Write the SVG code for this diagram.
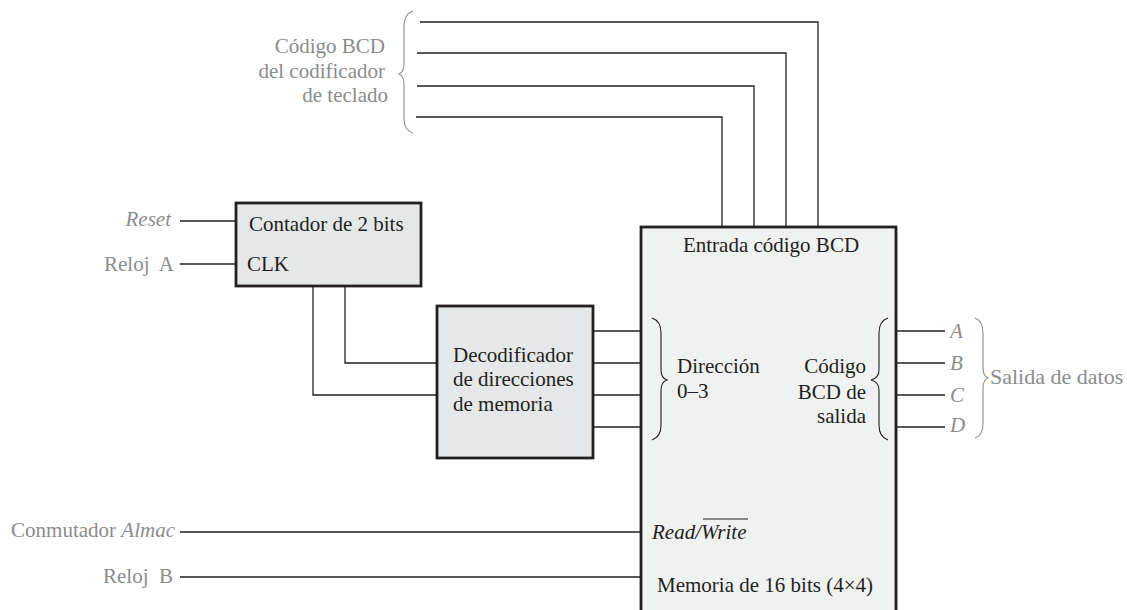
<svg xmlns="http://www.w3.org/2000/svg" width="1127" height="610" viewBox="0 0 1127 610">
<style>
text{font-size:21px;fill:#231f20}
.g{fill:#8a8c8e}
.i{font-style:italic}
.box{stroke:#231f20;stroke-width:2.8}
.w{fill:none;stroke:#231f20;stroke-width:1.3}
.br{fill:none;stroke:#231f20;stroke-width:1.1}
.brg{fill:none;stroke:#8a8c8e;stroke-width:1.1}
</style>
<rect width="1127" height="610" fill="#fff"/>
<g font-family="'Liberation Serif', serif">
<g id="connectors">
<path class="w" d="M420 22H818V227M417 53H786V227M417 86H754V227M416 117H722V227"/>
<path class="w" d="M180 221H236M180 264H236"/>
<path class="w" d="M345 286V363H437M313 286V395H437"/>
<path class="w" d="M593 331H641M593 363H641M593 395H641M593 427H641"/>
<path class="w" d="M896 331H945M896 363H945M896 395H945M896 427H945"/>
<path class="w" d="M180 532H641M180 577H641"/>
</g>
<g id="keyboard-label">
<text class="g" x="385" y="53" text-anchor="end">Código BCD</text>
<text class="g" x="385" y="78" text-anchor="end">del codificador</text>
<text class="g" x="388" y="102" text-anchor="end">de teclado</text>
<path class="brg" d="M413 11Q404 14 404 27V64Q404 72 399 74Q404 76 404 84V119Q404 130 413 133"/>
</g>
<g id="counter">
<rect class="box" x="236" y="203" width="185" height="83" fill="#e6e7e8"/>
<text x="249" y="231">Contador de 2 bits</text>
<text x="247" y="271">CLK</text>
<text class="g i" x="171" y="226" text-anchor="end">Reset</text>
<text class="g" x="174" y="271" text-anchor="end" xml:space="preserve">Reloj  A</text>
</g>
<g id="decoder">
<rect class="box" x="437" y="306" width="156" height="152" fill="#e6e7e8"/>
<text x="453" y="362">Decodificador</text>
<text x="453" y="386">de direcciones</text>
<text x="453" y="411">de memoria</text>
</g>
<g id="memory">
<rect class="box" x="641" y="227" width="255" height="390" fill="#f0f1f1"/>
<text x="771" y="252" text-anchor="middle">Entrada código BCD</text>
<path class="br" d="M652 318Q661 321 661 333V370Q661 378 667 380Q661 382 661 390V425Q661 437 652 440"/>
<text x="677" y="373">Dirección</text>
<text x="677" y="398">0–3</text>
<text x="866" y="373" text-anchor="end">Código</text>
<text x="866" y="399" text-anchor="end">BCD de</text>
<text x="866" y="423" text-anchor="end">salida</text>
<path class="br" d="M888 318Q879 321 879 333V370Q879 378 871 380Q879 382 879 390V425Q879 437 888 440"/>
<text class="i" x="652" y="539">Read/Write</text>
<path class="br" d="M703 519H748"/>
<text x="657" y="592">Memoria de 16 bits (4×4)</text>
</g>
<g id="outputs">
<text class="g i" x="950" y="338">A</text>
<text class="g i" x="950" y="370">B</text>
<text class="g i" x="950" y="402">C</text>
<text class="g i" x="950" y="432">D</text>
<path class="brg" d="M975 318Q983 321 983 333V368Q983 376 988 378Q983 380 983 388V424Q983 435 975 438"/>
<text class="g" x="990" y="384" style="font-size:22px">Salida de datos</text>
</g>
<g id="inputs">
<text class="g" x="175" y="537" text-anchor="end">Conmutador <tspan class="i">Almac</tspan></text>
<text class="g" x="173" y="583" text-anchor="end" xml:space="preserve">Reloj  B</text>
</g>
</g>
</svg>
